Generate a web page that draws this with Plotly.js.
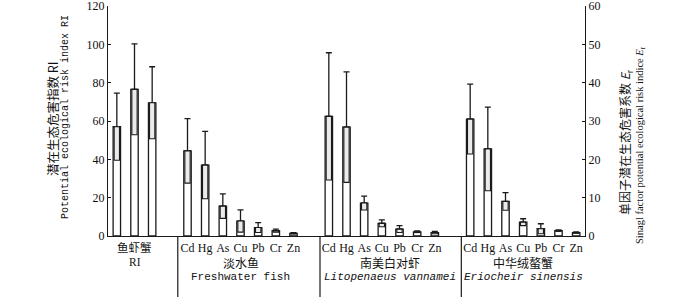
<!DOCTYPE html>
<html>
<head>
<meta charset="utf-8">
<script src="https://cdn.plot.ly/plotly-3.0.1.min.js"></script>
<style>html,body{margin:0;padding:0;background:#fff;}#chart{width:700px;height:297px;}</style>
</head>
<body>
<div id="chart"></div>
<script>
// ---- data ----
const riLabel = '鱼虾蟹';
const riMean = [57.0, 76.5, 69.5];
const riSD = [17.5, 23.7, 18.8];

const elements = ['Cd', 'Hg', 'As', 'Cu', 'Pb', 'Cr', 'Zn'];
const fishMean = [22.2, 18.5, 7.8, 3.9, 2.2, 1.4, 0.7];
const fishSD = [8.4, 8.8, 3.2, 2.9, 1.3, 0.4, 0.2];
const shrimpMean = [31.2, 28.4, 8.6, 3.3, 1.8, 1.1, 0.9];
const shrimpSD = [16.6, 14.4, 1.8, 0.9, 0.9, 0.2, 0.3];
const crabMean = [30.5, 22.7, 9.0, 3.6, 1.9, 1.4, 0.9];
const crabSD = [9.1, 10.9, 2.3, 0.9, 1.3, 0.2, 0.2];

const groupNamesCN = ['淡水鱼', '南美白对虾', '中华绒螯蟹'];
const groupNamesEN = ['Freshwater fish', '<i>Litopenaeus vannamei</i>', '<i>Eriocheir sinensis</i>'];

// ---- build ----
const groupMeans = [fishMean, shrimpMean, crabMean];
const groupSDs = [fishSD, shrimpSD, crabSD];
const riX = riMean.map((_, i) => i);
const elX = [], elY = [], elSD = [], elText = [];
groupMeans.forEach((m, g) => {
  m.forEach((v, i) => {
    elX.push(4 + g * 8 + i);
    elY.push(v);
    elSD.push(groupSDs[g][i]);
    elText.push(elements[i]);
  });
});

const lineCol = '#1a1a1a';
const outerW = 0.42, innerW = 0.3;
const innerFill = '#ebebeb';
function outer(x, y, sd, yaxis) {
  return {
    type: 'bar', x: x, y: y, yaxis: yaxis, width: outerW,
    marker: {color: '#ffffff', line: {color: lineCol, width: 1.3}},
    error_y: {type: 'data', symmetric: false, array: sd, arrayminus: sd.map(() => 0),
              color: lineCol, thickness: 1.3, width: 3},
    hoverinfo: 'skip', showlegend: false
  };
}
function inner(x, y, sd, yaxis) {
  return {
    type: 'bar', x: x, y: sd, base: y.map((v, i) => v - sd[i]), yaxis: yaxis, width: innerW,
    marker: {color: innerFill, line: {color: lineCol, width: 1.1}},
    hoverinfo: 'skip', showlegend: false
  };
}

const data = [
  outer(riX, riMean, riSD, 'y'),
  inner(riX, riMean, riSD, 'y'),
  outer(elX, elY, elSD, 'y2'),
  inner(elX, elY, elSD, 'y2')
];

const mono = 'Liberation Mono, Noto Sans CJK SC, monospace';
const cjk = 'Noto Sans CJK SC, sans-serif';
const serif = 'Liberation Serif, Noto Sans CJK SC, serif';

const annotations = [];
// RI group label
annotations.push({xref: 'x', yref: 'paper', x: 1, y: (236 - 247) / 230, text: riLabel,
  showarrow: false, font: {family: cjk, size: 11.5, color: '#111'}, xanchor: 'center', yanchor: 'middle'});
annotations.push({xref: 'x', yref: 'paper', x: 1, y: (236 - 261.5) / 230, text: 'RI',
  showarrow: false, font: {family: serif, size: 11.5, color: '#111'}, xanchor: 'center', yanchor: 'middle'});
const groupCenters = [7, 15.45, 23];
groupNamesCN.forEach((t, g) => {
  annotations.push({xref: 'x', yref: 'paper', x: groupCenters[g], y: (236 - 262) / 230, text: t,
    showarrow: false, font: {family: cjk, size: 12, color: '#111'}, xanchor: 'center', yanchor: 'middle'});
  annotations.push({xref: 'x', yref: 'paper', x: groupCenters[g], y: (236 - 277) / 230, text: groupNamesEN[g],
    showarrow: false, font: {family: mono, size: 11, color: '#111'}, xanchor: 'center', yanchor: 'middle'});
});
// axis titles (rotated)
annotations.push({xref: 'paper', yref: 'paper', x: (52 - 108) / 477, y: (236 - 119) / 230,
  text: '潜在生态危害指数 RI', textangle: -90, showarrow: false,
  font: {family: cjk, size: 12.5, color: '#111'}, xanchor: 'center', yanchor: 'middle'});
annotations.push({xref: 'paper', yref: 'paper', x: (65 - 108) / 477, y: (236 - 117) / 230,
  text: 'Potential ecological risk index RI', textangle: -90, showarrow: false,
  font: {family: mono, size: 10, color: '#111'}, xanchor: 'center', yanchor: 'middle'});
annotations.push({xref: 'paper', yref: 'paper', x: (626 - 108) / 477, y: (236 - 142) / 230,
  text: '单因子潜在生态危害系数 <i>E</i><sub>r</sub>', textangle: -90, showarrow: false,
  font: {family: cjk, size: 12, color: '#111'}, xanchor: 'center', yanchor: 'middle'});
annotations.push({xref: 'paper', yref: 'paper', x: (640 - 108) / 477, y: (236 - 145) / 230,
  text: 'Sinagl factor potential ecological risk indice <i>E</i><sub>r</sub>', textangle: -90, showarrow: false,
  font: {family: serif, size: 10.5, color: '#111'}, xanchor: 'center', yanchor: 'middle'});

const separators = [3.45, 11.5, 19.5].map(x => ({
  type: 'line', xref: 'x', yref: 'paper', x0: x, x1: x, y0: 0, y1: -0.3,
  line: {color: lineCol, width: 1.2}
}));

const mkTickFont = () => ({family: serif, size: 12, color: '#111'});
const layout = {
  width: 700, height: 297,
  margin: {l: 108, r: 115, t: 6, b: 61, pad: 0},
  paper_bgcolor: '#fff', plot_bgcolor: '#fff',
  barmode: 'overlay',
  showlegend: false,
  xaxis: {
    range: [-0.5, 26.5], showgrid: false, zeroline: false,
    showline: true, linecolor: lineCol, linewidth: 1.2,
    tickmode: 'array', tickvals: elX, ticktext: elText, ticks: '', tickangle: 0,
    tickfont: mkTickFont()
  },
  yaxis: {
    range: [0, 120], dtick: 20, showgrid: false, zeroline: false,
    showline: true, linecolor: lineCol, linewidth: 1.2,
    ticks: 'inside', ticklen: 3, tickcolor: lineCol, ticklabeloverflow: 'allow',
    tickfont: mkTickFont()
  },
  yaxis2: {
    range: [0, 60], dtick: 10, overlaying: 'y', side: 'right', showgrid: false, zeroline: false,
    showline: true, linecolor: lineCol, linewidth: 1.2,
    ticks: 'inside', ticklen: 3, tickcolor: lineCol, ticklabeloverflow: 'allow',
    tickfont: mkTickFont()
  },
  annotations: annotations,
  shapes: separators
};

Plotly.newPlot('chart', data, layout, {staticPlot: true, displayModeBar: false});
</script>
</body>
</html>
